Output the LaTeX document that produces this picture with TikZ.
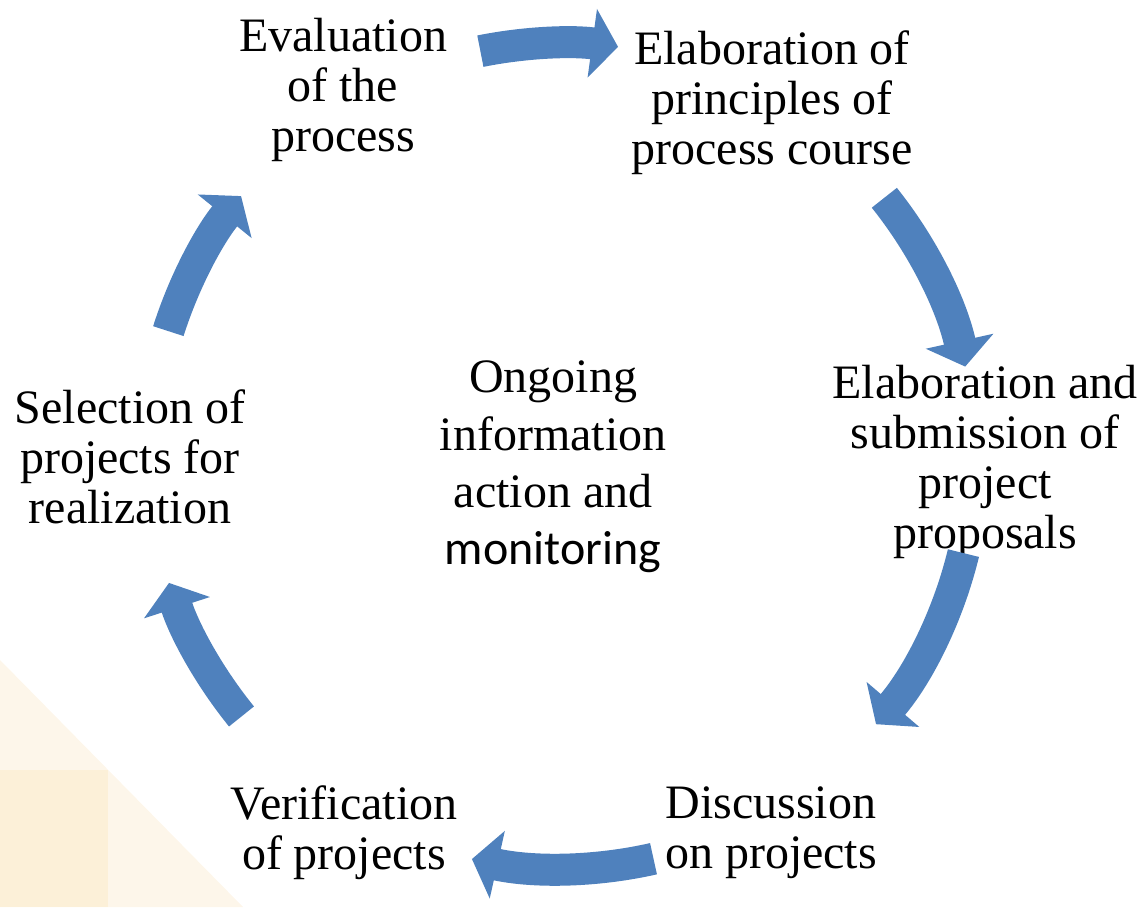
\documentclass[tikz,border=0pt]{standalone}
\usepackage{fontspec}
\setmainfont{Liberation Serif}
\newfontfamily\calibrifont{Carlito}
\usetikzlibrary{arrows.meta}
\definecolor{ringblue}{HTML}{4F81BD}
\definecolor{paletri}{HTML}{FDF6EA}
\definecolor{palebox}{HTML}{FCF0D8}
\tikzset{
  stagetext/.style={align=center, inner sep=0pt},
  ringarrow/.style={->, draw=ringblue, line width=24pt}
}
\begin{document}
\begin{tikzpicture}[x=0.75pt, y=0.75pt, font=\fontsize{36}{37.5}\selectfont, line join=round, >={Triangle[width=51pt,length=19.5pt]}]
			\useasboundingbox (0,0) rectangle (1141,907);
			% pale background corner
			\fill[paletri] (0,247) -- (0,0) -- (243,0) -- cycle;
			\fill[palebox] (0,0) rectangle (108,137);
			\coordinate (c) at (562,451);
			\node[stagetext] (evaluation) at (343,817) {Evaluation\\of the\\process};
			\node[stagetext] (principles) at (772,804) {Elaboration of\\principles of\\process course};
			\node[stagetext] (proposals) at (985,445) {Elaboration and\\submission of\\project\\proposals};
			\node[stagetext] (discussion) at (771,74) {Discussion\\on projects};
			\node[stagetext] (verification) at (344,74) {Verification\\of projects};
			\node[stagetext] (selection) at (130,450) {Selection of\\projects for\\realization};
			\node[stagetext, font=\fontsize{36}{43}\selectfont] (ongoing) at (553,440) {Ongoing\\information\\action and\\{\calibrifont monitoring}};
			% arrows round the cycle
			\draw[ringarrow] (c) ++(101.4:413) arc[start angle=101.4, end angle=82.2, radius=413];
			\draw[ringarrow] (c) ++(38.7:413) arc[start angle=38.7, end angle=12.5, radius=413];
			\draw[ringarrow] (c) ++(-13.6:413) arc[start angle=-13.6, end angle=-40.5, radius=413];
			\draw[ringarrow] (c) ++(-77.2:413) arc[start angle=-77.2, end angle=-102.6, radius=413];
			\draw[ringarrow] (c) ++(-140.9:413) arc[start angle=-140.9, end angle=-162.1, radius=413];
			\draw[ringarrow] (c) ++(162.4:413) arc[start angle=162.4, end angle=141, radius=413];
		\end{tikzpicture}
\end{document}
